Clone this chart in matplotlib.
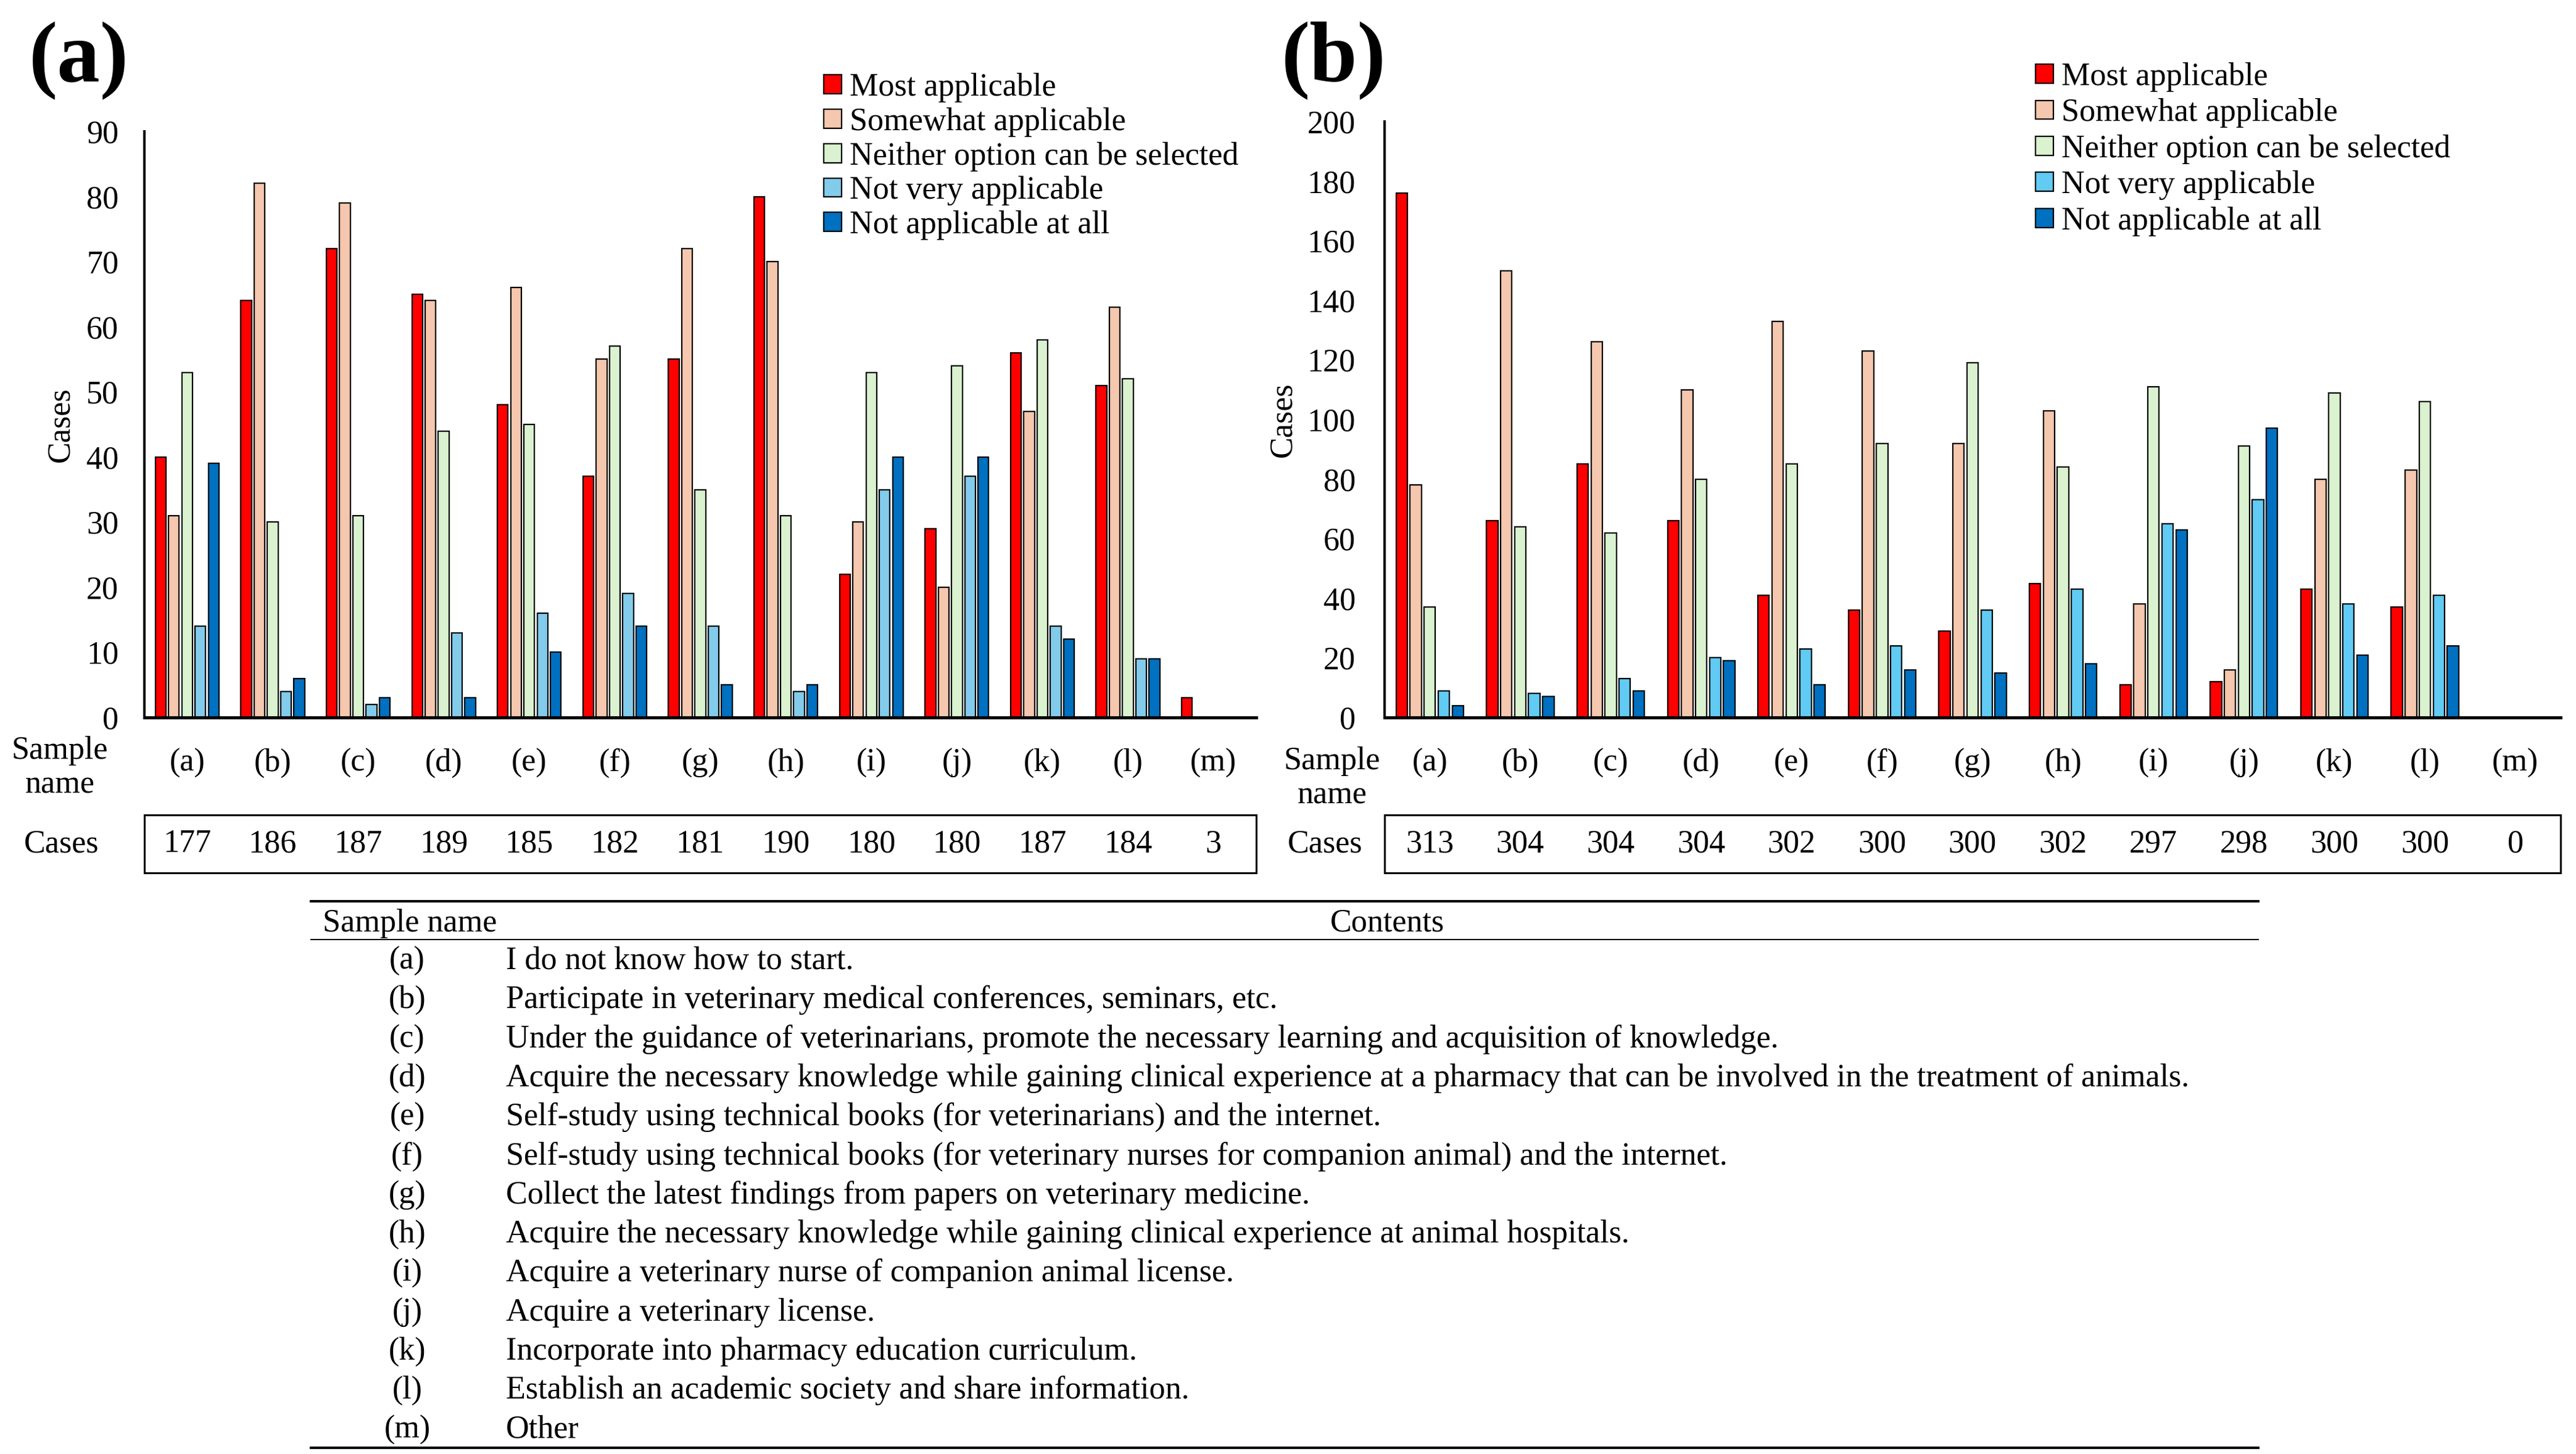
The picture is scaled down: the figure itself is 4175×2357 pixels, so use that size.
import numpy as np
import matplotlib
matplotlib.use('Agg')
import matplotlib.pyplot as plt

plt.rcParams['font.family'] = 'Liberation Serif'

# ---- data ----
samples = ['(a)', '(b)', '(c)', '(d)', '(e)', '(f)', '(g)', '(h)', '(i)', '(j)', '(k)', '(l)', '(m)']
series = ['Most applicable', 'Somewhat applicable', 'Neither option can be selected',
          'Not very applicable', 'Not applicable at all']

# panel (a)
most_a = [40, 64, 72, 65, 48, 37, 55, 80, 22, 29, 56, 51, 3]
somewhat_a = [31, 82, 79, 64, 66, 55, 72, 70, 30, 20, 47, 63, 0]
neither_a = [53, 30, 31, 44, 45, 57, 35, 31, 53, 54, 58, 52, 0]
notvery_a = [14, 4, 2, 13, 16, 19, 14, 4, 35, 37, 14, 9, 0]
notatall_a = [39, 6, 3, 3, 10, 14, 5, 5, 40, 40, 12, 9, 0]
cases_a = [177, 186, 187, 189, 185, 182, 181, 190, 180, 180, 187, 184, 3]

# panel (b)
most_b = [176, 66, 85, 66, 41, 36, 29, 45, 11, 12, 43, 37, 0]
somewhat_b = [78, 150, 126, 110, 133, 123, 92, 103, 38, 16, 80, 83, 0]
neither_b = [37, 64, 62, 80, 85, 92, 119, 84, 111, 91, 109, 106, 0]
notvery_b = [9, 8, 13, 20, 23, 24, 36, 43, 65, 73, 38, 41, 0]
notatall_b = [4, 7, 9, 19, 11, 16, 15, 18, 63, 97, 21, 24, 0]
cases_b = [313, 304, 304, 304, 302, 300, 300, 302, 297, 298, 300, 300, 0]

contents = [
    'I do not know how to start.',
    'Participate in veterinary medical conferences, seminars, etc.',
    'Under the guidance of veterinarians, promote the necessary learning and acquisition of knowledge.',
    'Acquire the necessary knowledge while gaining clinical experience at a pharmacy that can be involved in the treatment of animals.',
    'Self-study using technical books (for veterinarians) and the internet.',
    'Self-study using technical books (for veterinary nurses for companion animal) and the internet.',
    'Collect the latest findings from papers on veterinary medicine.',
    'Acquire the necessary knowledge while gaining clinical experience at animal hospitals.',
    'Acquire a veterinary nurse of companion animal license.',
    'Acquire a veterinary license.',
    'Incorporate into pharmacy education curriculum.',
    'Establish an academic society and share information.',
    'Other',
]

colors_a = ['#FF0000', '#F4C7AE', '#DAF2D0', '#83CBEB', '#0070C0']
colors_b = ['#FF0000', '#F4C7AE', '#DAF2D0', '#61CBF4', '#0070C0']

W, H = 4175, 2357
FS = 37.5


def fx(px):
    return px / W


def fy(py):
    return 1 - py / H


fig = plt.figure(figsize=(W / 100, H / 100), dpi=100)


def draw_panel(left, right, top, ymax, ystep, data, colors, cases, ypad, ylab_x,
               leg_xy, leg_sp, letter, letter_xy, case_xy, sname_xy):
    bottom = 1163
    ax = fig.add_axes([fx(left), fy(bottom), fx(right) - fx(left), (bottom - top) / H])
    x = np.arange(len(samples))
    for k, vals in enumerate(data):
        ax.bar(x + (k - 2) * 0.155, vals, width=0.125, color=colors[k],
               edgecolor='black', linewidth=1.6, label=series[k], zorder=2)
    ax.set_xlim(-0.5, len(samples) - 0.5)
    ax.set_ylim(0, ymax)
    ax.set_yticks(np.arange(0, ymax + 1, ystep))
    ax.set_xticks(x)
    ax.set_xticklabels(samples)
    ax.tick_params(axis='y', length=0, pad=ypad, labelsize=FS)
    ax.tick_params(axis='x', length=0, pad=36, labelsize=FS)
    for s in ['top', 'right']:
        ax.spines[s].set_visible(False)
    ax.spines['left'].set_linewidth(2.9)
    ax.spines['bottom'].set_linewidth(3.6)
    ax.set_ylabel('Cases', fontsize=FS)
    ax.yaxis.set_label_coords(ylab_x, 0.5)
    ax.legend(loc='upper left', bbox_to_anchor=(fx(leg_xy[0]), fy(leg_xy[1])),
              bbox_transform=fig.transFigure, frameon=False, fontsize=FS,
              handlelength=0.55, handleheight=0.53, handletextpad=0.25,
              labelspacing=leg_sp, borderpad=0, borderaxespad=0)

    # cases row under the chart
    bax = fig.add_axes([fx(left), fy(1415), fx(right) - fx(left), (1415 - 1321) / H])
    bax.set_xlim(-0.5, len(samples) - 0.5)
    bax.set_ylim(0, 1)
    bax.set_xticks([])
    bax.set_yticks([])
    for s in bax.spines.values():
        s.set_linewidth(2.2)
    for i, c in enumerate(cases):
        bax.text(i, 0.5, str(c), ha='center', va='center', fontsize=FS)

    fig.text(fx(letter_xy[0]), fy(letter_xy[1]), letter, fontsize=100,
             fontweight='bold', ha='center', va='center')
    fig.text(fx(case_xy[0]), fy(case_xy[1]), 'Cases', fontsize=FS, ha='center', va='center')
    fig.text(fx(sname_xy[0]), fy(sname_xy[1]), 'Sample\nname', fontsize=FS,
             ha='center', va='center', linespacing=1.2)


draw_panel(234, 2036, 213, 90, 10,
           [most_a, somewhat_a, neither_a, notvery_a, notatall_a], colors_a, cases_a,
           30, -0.062, (1335, 118), 0.15, '(a)', (128, 99), (100, 1368), (97, 1245))
draw_panel(2244, 4150, 197, 200, 20,
           [most_b, somewhat_b, neither_b, notvery_b, notatall_b], colors_b, cases_b,
           34, -0.074, (3299, 101), 0.2, '(b)', (2162, 99), (2148, 1368), (2159, 1262))

# ---- description table at the bottom ----
tax = fig.add_axes([0, 0, 1, 1])
tax.set_xlim(0, W)
tax.set_ylim(H, 0)
tax.axis('off')
tx0, tx1 = 504, 3660
tax.plot([tx0, tx1], [1461, 1461], color='black', lw=2.9)
tax.plot([tx0, tx1], [1523, 1523], color='black', lw=1.4)
tax.plot([tx0, tx1], [2347, 2347], color='black', lw=2.9)
tax.text(523, 1497, 'Sample name', fontsize=FS, ha='left', va='center')
tax.text(2248, 1497, 'Contents', fontsize=FS, ha='center', va='center')
for i, (s, c) in enumerate(zip(samples, contents)):
    yy = 1558 + i * 63.3
    tax.text(660, yy, s, fontsize=FS, ha='center', va='center')
    tax.text(820, yy, c, fontsize=FS, ha='left', va='center')

fig.savefig('out.png', dpi=100)
